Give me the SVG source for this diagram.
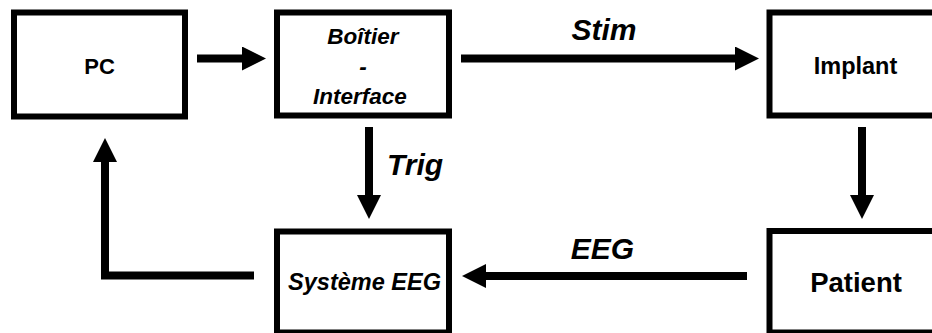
<svg xmlns="http://www.w3.org/2000/svg" width="932" height="333" viewBox="0 0 932 333">
  <style>
    .box { fill: #ffffff; stroke: #000000; stroke-width: 6; }
    .lbl { font-family: "Liberation Sans", Arial, sans-serif; font-weight: bold; fill: #000000; text-anchor: middle; }
    .it { font-style: italic; }
    .conn { fill: none; stroke: #000000; stroke-width: 8; stroke-linejoin: miter; }
    .elbl { font-family: "Liberation Sans", Arial, sans-serif; font-weight: bold; font-style: italic; font-size: 30px; fill: #000000; }
  </style>
  <defs>
    <marker id="ah" markerUnits="userSpaceOnUse" markerWidth="24" markerHeight="24" refX="0" refY="12" orient="auto">
      <path d="M0,0 L24,12 L0,24 Z" fill="#000000"/>
    </marker>
  </defs>
  <rect x="0" y="0" width="932" height="333" fill="#ffffff"/>

  <g id="connectors">
    <line class="conn" x1="197" y1="58.5" x2="242" y2="58.5" marker-end="url(#ah)"/>
    <line class="conn" x1="461" y1="58.5" x2="735" y2="58.5" marker-end="url(#ah)"/>
    <line class="conn" x1="862" y1="127" x2="862" y2="195" marker-end="url(#ah)"/>
    <line class="conn" x1="369" y1="127" x2="369" y2="195" marker-end="url(#ah)"/>
    <line class="conn" x1="747" y1="276" x2="486" y2="276" marker-end="url(#ah)"/>
    <polyline class="conn" points="254,275.5 105,275.5 105,162" marker-end="url(#ah)"/>
    <text class="elbl" x="604" y="40" text-anchor="middle">Stim</text>
    <text class="elbl" x="387" y="175">Trig</text>
    <text class="elbl" x="602.5" y="258.5" text-anchor="middle">EEG</text>
  </g>

  <g id="pc">
    <rect class="box" x="14" y="12.5" width="171" height="104"/>
    <text class="lbl" x="99.5" y="74" font-size="22">PC</text>
  </g>
  <g id="boitier">
    <rect class="box" x="277" y="12.5" width="172" height="103"/>
    <text class="lbl it" x="363" y="43.5" font-size="22.5">Boîtier</text>
    <text class="lbl it" x="363" y="73.5" font-size="22.5">-</text>
    <text class="lbl it" x="360" y="103.5" font-size="22.5">Interface</text>
  </g>
  <g id="implant">
    <rect class="box" x="769.5" y="12.5" width="180" height="103"/>
    <text class="lbl" x="855.5" y="73.5" font-size="23.5">Implant</text>
  </g>
  <g id="systeme-eeg">
    <rect class="box" x="277" y="231.5" width="172" height="101"/>
    <text class="lbl it" x="364.5" y="290" font-size="23.5">Système EEG</text>
  </g>
  <g id="patient">
    <rect class="box" x="769.5" y="231" width="180" height="101.5"/>
    <text class="lbl" x="856" y="291.5" font-size="27.5">Patient</text>
  </g>
</svg>
